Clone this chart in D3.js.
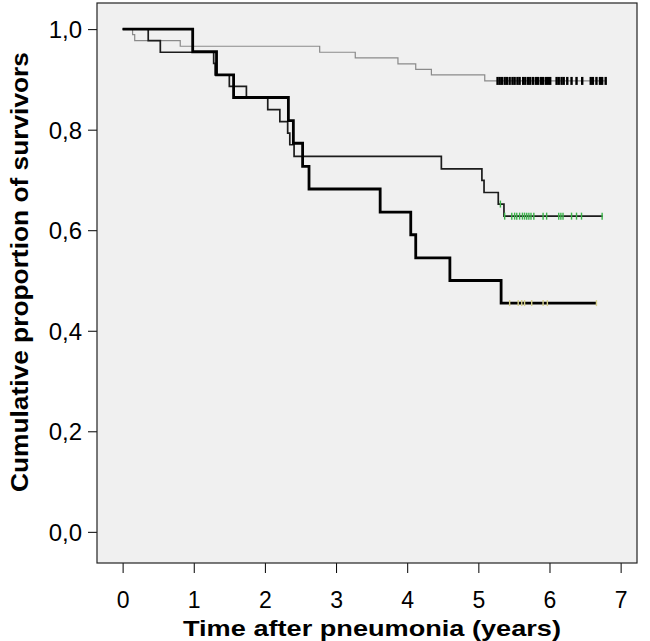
<!DOCTYPE html>
<html>
<head>
<meta charset="utf-8">
<script src="https://cdn.jsdelivr.net/npm/d3@7"></script>
<style>
  html, body { margin: 0; padding: 0; background: #ffffff; }
  svg { display: block; font-family: "Liberation Sans", Arial, sans-serif; }
</style>
</head>
<body>
<svg id="chart" width="650" height="641"></svg>
<script>
// ---- data ----
const yTicks = [0, 0.2, 0.4, 0.6, 0.8, 1.0];
const yTickLabels = ["0,0", "0,2", "0,4", "0,6", "0,8", "1,0"];
const xTicks = [0, 1, 2, 3, 4, 5, 6, 7];
const xTickLabels = ["0", "1", "2", "3", "4", "5", "6", "7"];

// thin grey curve
const grayTimes = [0, 0.14, 0.17, 0.81, 2.77, 3.27, 3.87, 4.12, 4.34, 5.09, 6.80];
const graySurv  = [1, 0.989, 0.977, 0.966, 0.954, 0.943, 0.931, 0.920, 0.909, 0.897, 0.897];
const grayCensor = [5.27, 5.30, 5.33, 5.37, 5.40, 5.44, 5.48, 5.51, 5.55, 5.58, 5.63, 5.66,
  5.70, 5.73, 5.77, 5.81, 5.84, 5.88, 5.91, 5.95, 5.98, 6.01, 6.10, 6.13, 6.17, 6.20,
  6.25, 6.31, 6.38, 6.46, 6.58, 6.61, 6.66, 6.71, 6.74, 6.79];

// medium black curve
const midTimes = [0, 0.36, 0.53, 1.28, 1.30, 1.50, 1.74, 2.04, 2.21, 2.32, 2.35, 2.41, 4.48, 5.05, 5.08, 5.28, 5.36, 6.75];
const midSurv  = [1, 0.977, 0.954, 0.932, 0.909, 0.886, 0.863, 0.840, 0.816, 0.793, 0.770, 0.747, 0.722, 0.699, 0.675, 0.652, 0.628, 0.628];
const midCensor = [5.31, 5.37, 5.47, 5.51, 5.54, 5.58, 5.62, 5.65, 5.68, 5.71, 5.74, 5.78,
  5.91, 5.96, 6.13, 6.16, 6.19, 6.31, 6.38, 6.45, 6.74];

// thick black curve
const thickTimes = [0, 0.985, 1.32, 1.56, 2.33, 2.40, 2.53, 2.62, 3.62, 4.05, 4.12, 4.60, 5.32, 6.66];
const thickSurv  = [1, 0.955, 0.909, 0.864, 0.818, 0.773, 0.727, 0.682, 0.636, 0.591, 0.545, 0.500, 0.455, 0.455];
const thickCensor = [5.44, 5.56, 5.61, 5.65, 5.75, 5.91, 5.97, 6.66];

// ---- drawing ----
const svg = d3.select("#chart");
const frame = { left: 97, top: 3, right: 637, bottom: 563 };

const x = d3.scaleLinear().domain([-0.36, 7.23]).range([frame.left, frame.right]);
const y = d3.scaleLinear().domain([-0.062, 1.052]).range([frame.bottom, frame.top]);

svg.append("rect")
  .attr("x", frame.left).attr("y", frame.top)
  .attr("width", frame.right - frame.left).attr("height", frame.bottom - frame.top)
  .attr("fill", "#f0f0f0");

// axes
const yAxis = d3.axisLeft(y).tickValues(yTicks)
  .tickFormat((d, i) => yTickLabels[i]).tickSize(9).tickPadding(6).tickSizeOuter(0);
const gy = svg.append("g").attr("transform", `translate(${frame.left},0)`).call(yAxis);
gy.select(".domain").remove();
gy.selectAll(".tick line").attr("stroke", "#000").attr("stroke-width", 1);
gy.selectAll(".tick text").attr("font-size", 24).attr("fill", "#000").attr("dy", "0.36em");

const xAxis = d3.axisBottom(x).tickValues(xTicks)
  .tickFormat((d, i) => xTickLabels[i]).tickSize(10).tickPadding(19).tickSizeOuter(0);
const gx = svg.append("g").attr("transform", `translate(0,${frame.bottom})`).call(xAxis);
gx.select(".domain").remove();
gx.selectAll(".tick line").attr("stroke", "#000").attr("stroke-width", 1);
gx.selectAll(".tick text").attr("font-size", 23).attr("fill", "#000");

// frame
svg.append("rect")
  .attr("x", frame.left).attr("y", frame.top)
  .attr("width", frame.right - frame.left).attr("height", frame.bottom - frame.top)
  .attr("fill", "none").attr("stroke", "#222").attr("stroke-width", 1.2);

// titles
svg.append("text")
  .attr("x", 372).attr("y", 636)
  .attr("text-anchor", "middle").attr("font-size", 22).attr("font-weight", "bold")
  .attr("textLength", 378).attr("lengthAdjust", "spacingAndGlyphs")
  .text("Time after pneumonia (years)");
svg.append("text")
  .attr("transform", `translate(28,272) rotate(-90)`)
  .attr("text-anchor", "middle").attr("font-size", 24).attr("font-weight", "bold")
  .attr("textLength", 440).attr("lengthAdjust", "spacingAndGlyphs")
  .text("Cumulative proportion of survivors");

const stepLine = d3.line().x(d => x(d[0])).y(d => y(d[1])).curve(d3.curveStepAfter);
function pts(times, surv) { return times.map((t, i) => [t, surv[i]]); }
function survAt(times, surv, t) {
  let s = surv[0];
  for (let i = 0; i < times.length; i++) if (times[i] <= t) s = surv[i];
  return s;
}

const series = [
  { times: grayTimes, surv: graySurv, color: "#8a8a8a", width: 1.2, censor: grayCensor, ccolor: "#000000", cw: 2.4, ch: 8 },
  { times: midTimes, surv: midSurv, color: "#1c1c1c", width: 1.7, censor: midCensor, ccolor: "#3cb44b", cw: 1.4, ch: 7 },
  { times: thickTimes, surv: thickSurv, color: "#000000", width: 2.8, censor: thickCensor, ccolor: "#d6d08a", cw: 1.4, ch: 6 }
];

series.forEach(s => {
  svg.append("path")
    .datum(pts(s.times, s.surv))
    .attr("d", stepLine)
    .attr("fill", "none")
    .attr("stroke", s.color)
    .attr("stroke-width", s.width)
    .attr("stroke-linejoin", "miter");
});

series.forEach(s => {
  svg.append("g").selectAll("line")
    .data(s.censor)
    .join("line")
    .attr("x1", d => x(d)).attr("x2", d => x(d))
    .attr("y1", d => y(survAt(s.times, s.surv, d)) - s.ch / 2)
    .attr("y2", d => y(survAt(s.times, s.surv, d)) + s.ch / 2)
    .attr("stroke", s.ccolor)
    .attr("stroke-width", s.cw);
});
</script>
</body>
</html>
